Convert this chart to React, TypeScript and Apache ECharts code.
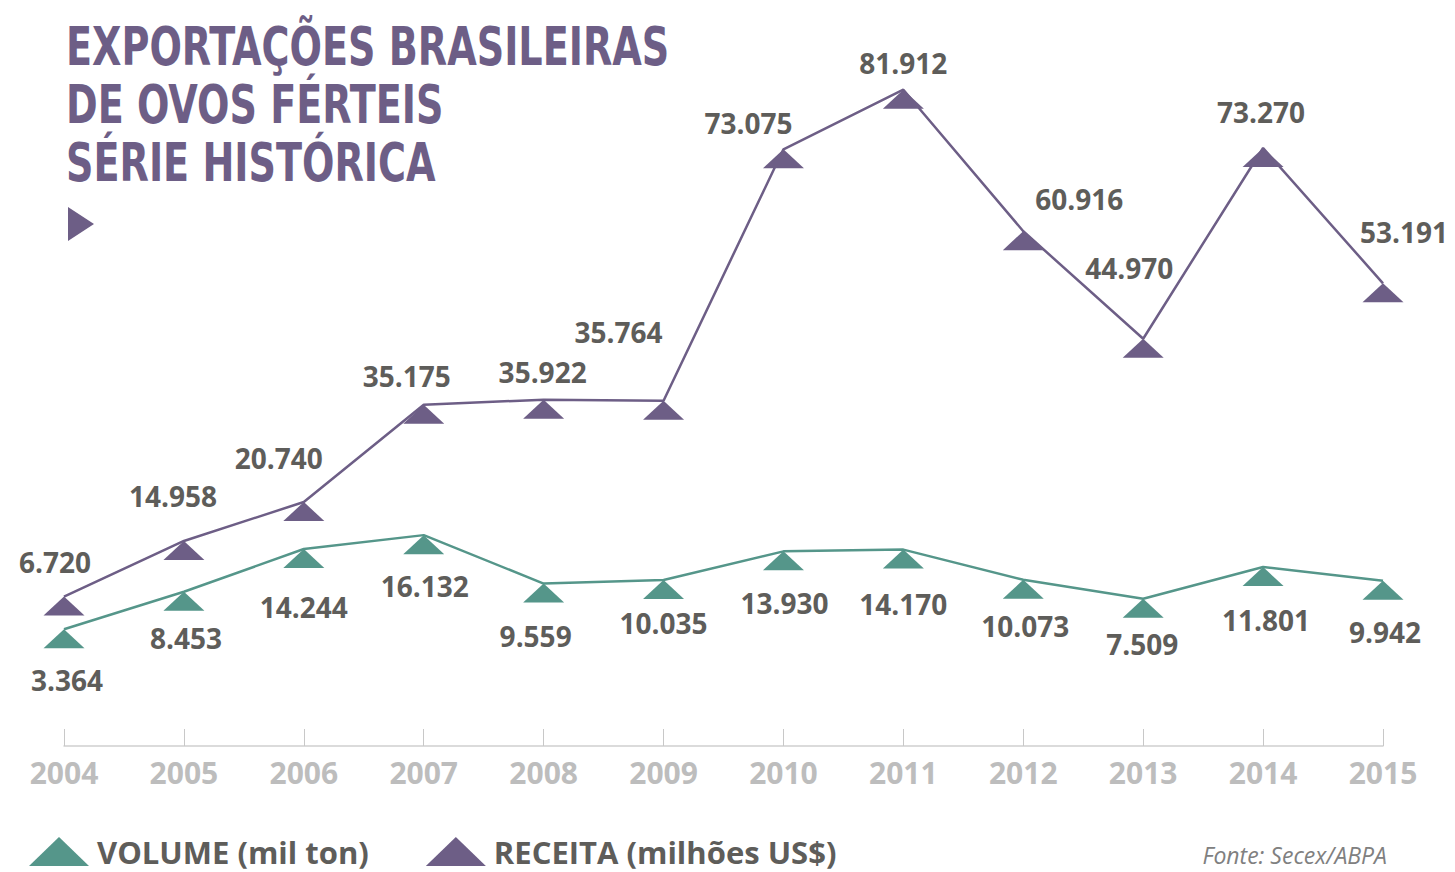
import React, { useEffect, useRef } from "react";
import * as echarts from "echarts";

const years = ["2004", "2005", "2006", "2007", "2008", "2009", "2010", "2011", "2012", "2013", "2014", "2015"];
const volume = [3.364, 8.453, 14.244, 16.132, 9.559, 10.035, 13.93, 14.17, 10.073, 7.509, 11.801, 9.942];
const receita = [6.72, 14.958, 20.74, 35.175, 35.922, 35.764, 73.075, 81.912, 60.916, 44.97, 73.27, 53.191];

const titleLines = ["EXPORTAÇÕES BRASILEIRAS", "DE OVOS FÉRTEIS", "SÉRIE HISTÓRICA"];
const volumeName = "VOLUME (mil ton)";
const receitaName = "RECEITA (milhões US$)";
const sourceText = "Fonte: Secex/ABPA";

// label placement relative to each marker (layout, not data)
const receitaLabelOffsets = [
  [-9, -44], [-11, -54.5], [-25, -53.5], [-17, -38], [-1, -37], [-45, -78],
  [-35, -36], [0, -36], [56, -42], [-14, -80], [-2, -45.5], [21, -61],
];
const volumeLabelOffsets = [
  [3, 41.3], [2, 36.8], [0, 48.5], [1, 41.4], [-8, 42.9], [0, 33.5],
  [1, 42.2], [0, 44.9], [2, 36.7], [-1, 35.8], [3, 43.5], [2, 41.8],
];

const PURPLE = "#6d5e86";
const TEAL = "#55968a";
const LABEL = "#5e5d5a";
const TITLE_FONT = '"DejaVu Sans Condensed", "DejaVu Sans", sans-serif';

export default function App() {
  const ref = useRef<HTMLDivElement>(null);
  useEffect(() => {
    if (!ref.current) return;
    const chart = echarts.init(ref.current, null, { renderer: "svg" });
    const fmt = (p: any) => Number(p.value).toFixed(3);
    const labelBase = {
      show: true,
      position: "inside",
      formatter: fmt,
      fontFamily: "Open Sans",
      fontWeight: "bold",
      fontSize: 28,
      color: LABEL,
    };
    chart.setOption({
      animation: false,
      backgroundColor: "#ffffff",
      grid: { left: 64, right: 72, top: 46, bottom: 126, containLabel: false },
      xAxis: {
        type: "category",
        data: years,
        boundaryGap: false,
        axisLine: { onZero: false, lineStyle: { color: "#cfcfcf", width: 1.5 } },
        axisTick: { show: true, inside: true, length: 17, lineStyle: { color: "#c8c8c8", width: 1 } },
        axisLabel: {
          margin: 11,
          fontFamily: "Open Sans",
          fontWeight: "bold",
          fontSize: 30,
          color: "#bdbdbd",
        },
        splitLine: { show: false },
      },
      yAxis: [
        { type: "value", min: -15.46, max: 88.4, show: false, splitLine: { show: false } },
        { type: "value", min: -12.48, max: 82.5, show: false, splitLine: { show: false } },
      ],
      legend: {
        left: 29,
        top: 836,
        padding: 0,
        icon: "triangle",
        itemWidth: 60,
        itemHeight: 29,
        itemGap: 57,
        selectedMode: false,
        data: [volumeName, receitaName],
        textStyle: {
          fontFamily: "Open Sans",
          fontWeight: "bold",
          fontSize: 31,
          lineHeight: 29,
          color: LABEL,
          padding: [0, 0, 0, 3],
        },
      },
      graphic: [
        ...titleLines.map((t, i) => ({
          type: "text",
          x: 66,
          y: 46.5 + i * 58,
          scaleX: 0.8,
          style: {
            text: t,
            font: `bold 53px ${TITLE_FONT}`,
            fill: PURPLE,
            textAlign: "left",
            textVerticalAlign: "middle",
            align: "left",
            verticalAlign: "middle",
          },
        })),
        {
          type: "polygon",
          shape: { points: [[68, 207], [94, 224], [68, 241]] },
          style: { fill: PURPLE },
        },
        {
          type: "text",
          x: 1387,
          y: 855,
          style: {
            text: sourceText,
            font: 'italic 23px "Open Sans", sans-serif',
            lineHeight: 23,
            fill: "#808080",
            textAlign: "right",
            textVerticalAlign: "middle",
            align: "right",
            verticalAlign: "middle",
          },
        },
      ],
      series: [
        {
          name: volumeName,
          type: "line",
          yAxisIndex: 1,
          data: volume.map((v, i) => ({ value: v, label: { offset: volumeLabelOffsets[i] } })),
          symbol: "triangle",
          symbolSize: [41, 19],
          symbolOffset: [0, 9.5],
          showAllSymbol: true,
          lineStyle: { color: TEAL, width: 2.5 },
          itemStyle: { color: TEAL },
          label: labelBase,
          emphasis: { disabled: true },
          z: 3,
        },
        {
          name: receitaName,
          type: "line",
          yAxisIndex: 0,
          data: receita.map((v, i) => ({ value: v, label: { offset: receitaLabelOffsets[i] } })),
          symbol: "triangle",
          symbolSize: [41, 19],
          symbolOffset: [0, 9.5],
          showAllSymbol: true,
          lineStyle: { color: PURPLE, width: 2.5 },
          itemStyle: { color: PURPLE },
          label: labelBase,
          emphasis: { disabled: true },
          z: 4,
        },
      ],
    });
    return () => chart.dispose();
  }, []);
  return <div ref={ref} style={{ width: 1455, height: 872, position: "absolute", left: 0, top: 0 }} />;
}
